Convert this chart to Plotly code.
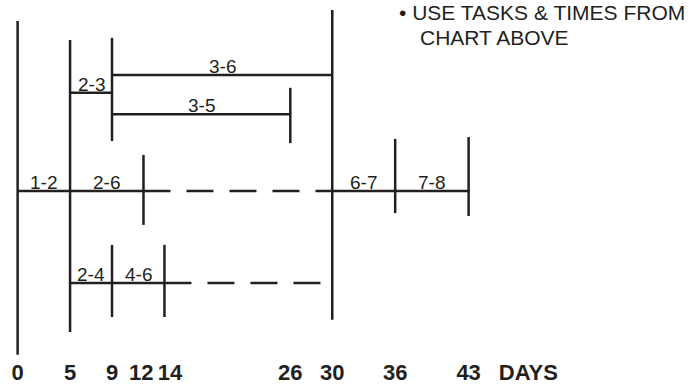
import plotly.graph_objects as go

# tarefas do diagrama (dias de inicio e fim)
tasks = ["1-2", "2-3", "2-4", "2-6", "3-5", "3-6", "4-6", "6-7", "7-8"]
start = [0, 5, 5, 5, 9, 9, 9, 30, 36]
end = [5, 9, 9, 12, 26, 30, 14, 36, 43]

# folga (tracejado) ate o evento 6
float_tasks = ["2-6", "4-6"]
float_end = [30, 30]

# eventos (linhas verticais) e dias no eixo
milestones = [0, 5, 9, 12, 14, 26, 30, 36, 43]
# 12 e 14 ficam muito juntos: espaco para afastar os rotulos
tick_labels = ["0", "5", "9", "12\u2009", "\u200214", "26", "30", "36", "43"]

# linha (altura) de cada tarefa no desenho
lane = {"3-6": 79, "2-3": 74, "3-5": 68,
        "1-2": 46.5, "2-6": 46.5, "6-7": 46.5, "7-8": 46.5,
        "2-4": 20.7, "4-6": 20.7}

# marcas verticais: dia, topo, base
node_day = [0, 5, 9, 9, 12, 14, 26, 30, 36, 43]
node_top = [94.1, 88.8, 89.4, 31.4, 56.6, 31.4, 75.4, 97.2, 61.1, 61.6]
node_bot = [0.6, 7.0, 60.5, 11.2, 37.0, 11.2, 59.9, 10.4, 40.3, 39.5]

INK = "#231f20"
FONT = "Liberation Sans, Arial, Helvetica, sans-serif"

fig = go.Figure()

# linhas verticais dos eventos
xs, ys = [], []
for d, t, b in zip(node_day, node_top, node_bot):
    xs += [d, d, None]
    ys += [b, t, None]
fig.add_trace(go.Scatter(x=xs, y=ys, mode="lines",
                         line=dict(color=INK, width=2.5), hoverinfo="skip"))

# tarefas (linhas cheias)
xs, ys = [], []
for t, s, e in zip(tasks, start, end):
    xs += [s, e, None]
    ys += [lane[t], lane[t], None]
fig.add_trace(go.Scatter(x=xs, y=ys, mode="lines",
                         line=dict(color=INK, width=2.5), hoverinfo="skip"))

# folgas (tracejado)
xs, ys = [], []
for t, fe in zip(float_tasks, float_end):
    s = end[tasks.index(t)]
    xs += [s, fe, None]
    ys += [lane[t], lane[t], None]
fig.add_trace(go.Scatter(x=xs, y=ys, mode="lines",
                         line=dict(color=INK, width=2.5, dash="27px,16px"),
                         hoverinfo="skip"))

# rotulos das tarefas
for t, s, e in zip(tasks, start, end):
    fig.add_annotation(x=(s + e) / 2, y=lane[t], text=t, showarrow=False,
                       xanchor="center", yanchor="bottom", yshift=-4,
                       font=dict(family=FONT, size=19, color=INK))

# nota no canto superior direito
fig.add_annotation(xref="paper", yref="paper", x=398 / 692, y=1.0,
                   text="\u2022 USE TASKS & TIMES FROM", showarrow=False,
                   xanchor="left", yanchor="top", borderpad=0,
                   font=dict(family=FONT, size=21, color=INK))
fig.add_annotation(xref="paper", yref="paper", x=419 / 692, y=0.93,
                   text="CHART ABOVE", showarrow=False,
                   xanchor="left", yanchor="top", borderpad=0,
                   font=dict(family=FONT, size=21, color=INK))

fig.update_layout(
    width=692, height=387,
    margin=dict(l=0, r=0, t=0, b=30),
    plot_bgcolor="white", paper_bgcolor="white",
    showlegend=False,
    xaxis=dict(range=[-1.68, 64.3], showgrid=False, zeroline=False,
               showline=False, ticks="", tickangle=0,
               tickvals=milestones + [48.7],
               ticktext=tick_labels + ["DAYS"],
               tickfont=dict(family=FONT, size=22, color=INK, weight="bold"),
               automargin=False, fixedrange=True),
    yaxis=dict(range=[0, 100], visible=False, fixedrange=True),
)

# tira a margem padrao do body para a figura caber na janela
fig.write_html("out.html", config={"displayModeBar": False},
               post_script="document.body.style.margin='0';"
                           "document.body.style.overflow='hidden';")
